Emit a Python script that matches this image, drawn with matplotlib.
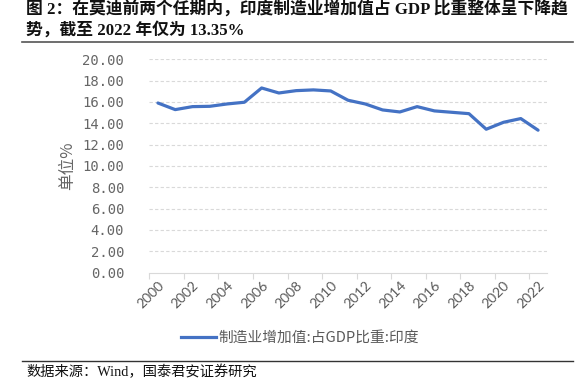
import matplotlib
matplotlib.use("Agg")
import matplotlib.pyplot as plt
from matplotlib.lines import Line2D

years = list(range(2000, 2023))
values = [15.90, 15.28, 15.56, 15.59, 15.81, 15.97, 17.31, 16.84, 17.06, 17.13,
          17.03, 16.16, 15.81, 15.25, 15.06, 15.56, 15.16, 15.03, 14.90, 13.44,
          14.09, 14.44, 13.35]
yticks = [0, 2, 4, 6, 8, 10, 12, 14, 16, 18, 20]
ytick_labels = [f"{v:.2f}" for v in yticks]
series_name = "制造业增加值:占GDP比重:印度"
title_l1 = "图 2：在莫迪前两个任期内，印度制造业增加值占 GDP 比重整体呈下降趋"
title_l2 = "势，截至 2022 年仅为 13.35%"
source = "数据来源：Wind，国泰君安证券研究"
ylabel = "单位%"

W, H = 582, 382
fig = plt.figure(figsize=(W / 100, H / 100), dpi=100)
ax = fig.add_axes([149.3 / W, 1 - 272.5 / H, (546.7 - 149.3) / W, (272.5 - 59.3) / H])

x = list(range(len(years)))
ax.plot(x, values, color="#4472C4", lw=2.3, solid_joinstyle="round", solid_capstyle="round", zorder=3)

ax.set_xlim(-0.5, len(years) - 0.5)
ax.set_ylim(0, 20)
ax.set_yticks(yticks)
ax.set_yticklabels(ytick_labels, family="DejaVu Sans Mono", fontsize=10, color="#666666")
ax.tick_params(axis="y", length=0, pad=18)
for v in yticks[1:]:
    ax.axhline(v, color="#D9D9D9", lw=0.8, ls=(0, (3, 2)), zorder=1)

# major ticks at category boundaries (every 2 years), labels at category centres
ax.set_xticks([i - 0.5 for i in x if i % 2 == 0])
ax.set_xticklabels([])
ax.tick_params(axis="x", which="major", length=4, color="#D9D9D9", width=0.8)
ax.set_xticks([i for i in x if i % 2 == 0], minor=True)
ax.set_xticklabels([str(years[i]) for i in x if i % 2 == 0], minor=True,
                   rotation=45, ha="right", va="top", rotation_mode="anchor",
                   family="Lato", fontsize=10, color="#595959")
ax.tick_params(axis="x", which="minor", length=0, pad=5)

for s in ["top", "right", "left"]:
    ax.spines[s].set_visible(False)
ax.spines["bottom"].set_color("#D9D9D9")
ax.spines["bottom"].set_linewidth(0.8)

fig.text(67.5 / W, 1 - 166 / H, ylabel, rotation=90, ha="center", va="center",
         family=["Noto Sans CJK SC", "DejaVu Sans"], fontsize=12, color="#666666")

# legend
handle = Line2D([], [], color="#4472C4", lw=2.3)
fig.legend([handle], [series_name], loc="center", bbox_to_anchor=(300 / W, 1 - 338 / H),
           frameon=False, handlelength=2.4, handletextpad=0.2,
           prop={"family": ["Noto Sans CJK SC", "DejaVu Sans"], "size": 10.6},
           labelcolor="#595959")

# title
tfont = dict(family=["Liberation Serif", "Noto Sans CJK SC"], fontsize=12.1, weight="bold", color="#111111")
fig.text(26 / W, 1 - 10 / H, title_l1, ha="left", va="center", **tfont)
fig.text(26 / W, 1 - 30 / H, title_l2, ha="left", va="center", **tfont)
fig.add_artist(Line2D([22 / W, 573 / W], [1 - 41.7 / H] * 2, color="#555555", lw=1.2))

# source
fig.add_artist(Line2D([22 / W, 573 / W], [1 - 361 / H] * 2, color="#333333", lw=1.0))
fig.text(26 / W, 1 - 371.5 / H, source, ha="left", va="center",
         family=["Liberation Serif", "Noto Sans CJK SC"], fontsize=10.3, color="#111111")

fig.savefig("out.png", dpi=100)
